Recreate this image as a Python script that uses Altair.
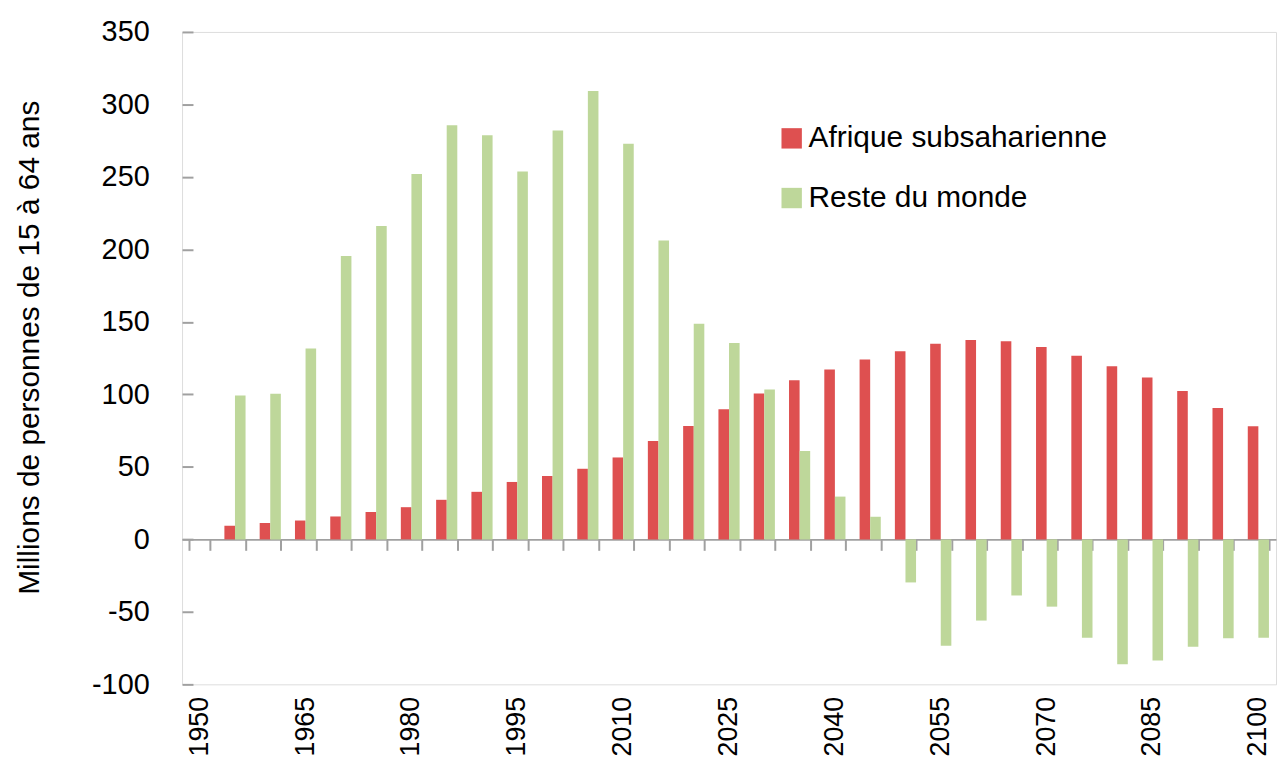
import altair as alt
import pandas as pd

categories = [str(y) for y in range(1950, 2101, 5)]
years = ["1955", "1960", "1965", "1970", "1975", "1980", "1985", "1990", "1995", "2000",
         "2005", "2010", "2015", "2020", "2025", "2030", "2035", "2040", "2045", "2050",
         "2055", "2060", "2065", "2070", "2075", "2080", "2085", "2090", "2095", "2100"]
afrique = [9.4, 11.3, 13, 15.8, 18.9, 22.2, 27.3, 32.8, 39.6, 43.7,
           48.7, 56.5, 67.9, 78.2, 89.7, 100.7, 109.8, 117.1, 124, 129.7,
           135, 137.5, 136.6, 132.7, 126.7, 119.4, 111.6, 102.3, 90.6, 78]
reste = [99.2, 100.4, 131.7, 195.4, 216.1, 252, 285.6, 278.8, 253.8, 282.1,
         309.3, 272.9, 206.1, 148.7, 135.4, 103.4, 60.9, 29.5, 15.6, -29.7,
         -73.4, -56, -38.7, -46.4, -67.9, -86.2, -83.5, -74.1, -68.2, -67.9]
series_names = ["Afrique subsaharienne", "Reste du monde"]
series_colors = ["#DE5050", "#BED79A"]
y_ticks = [-100, -50, 0, 50, 100, 150, 200, 250, 300, 350]

rows = []
for i, yr in enumerate(years):
    rows.append({"annee": yr, "serie": series_names[0], "valeur": afrique[i]})
    rows.append({"annee": yr, "serie": series_names[1], "valeur": reste[i]})
df = pd.DataFrame(rows)

FONT = "Liberation Sans"
W, H = 1100, 656
zero_offset = -H * 100 / 450

xscale = alt.Scale(domain=categories, paddingInner=0.40, paddingOuter=0.20)
yscale = alt.Scale(domain=[-100, 350], nice=False, zero=False)

base = alt.Chart(df)

bars = base.mark_bar().encode(
    x=alt.X("annee:N", scale=xscale, sort=None,
            axis=alt.Axis(title=None, labelAngle=-90, labelAlign="right", labelBaseline="middle",
                          labelPadding=12, ticks=False, tickSize=0, domain=False,
                          labelFont=FONT, labelFontSize=27, labelColor="#000000",
                          labelOverlap=False,
                          labelExpr="(toNumber(datum.value) - 1950) % 15 == 0 ? datum.value : ''")),
    xOffset=alt.XOffset("serie:N", sort=series_names,
                        scale=alt.Scale(paddingInner=0, paddingOuter=0)),
    y=alt.Y("valeur:Q", scale=yscale,
            axis=alt.Axis(values=y_ticks, title="Millions de personnes de 15 à 64 ans",
                          ticks=False, tickSize=0, domain=False, grid=False,
                          labelExpr="'' + datum.value",
                          labelPadding=33, labelFont=FONT, labelFontSize=29, labelColor="#000000",
                          titleFont=FONT, titleFontSize=30, titleFontWeight="normal",
                          titleColor="#000000", titleAngle=-90, titleAlign="center",
                          titleBaseline="middle", titleX=-153, titleY=317)),
    color=alt.Color("serie:N", sort=series_names,
                    scale=alt.Scale(domain=series_names, range=series_colors),
                    legend=alt.Legend(title=None, orient="none", legendX=598, legendY=92,
                                      symbolType="square", symbolSize=420, symbolStrokeWidth=0,
                                      labelFont=FONT, labelFontSize=30, labelColor="#000000",
                                      labelOffset=2, rowPadding=30, padding=0,
                                      labelLimit=600)),
)

axes_layer = base.mark_bar(opacity=0).encode(
    x=alt.X("annee:N", scale=xscale, sort=None,
            axis=alt.Axis(title=None, orient="bottom", offset=zero_offset, labels=False,
                          ticks=True, tickBand="extent", tickSize=11, tickWidth=2,
                          tickColor="#A0A0A0", domain=True, domainColor="#A0A0A0",
                          domainWidth=2, grid=False)),
    y=alt.Y("valeur:Q", scale=yscale,
            axis=alt.Axis(title=None, orient="right", offset=-W, values=y_ticks,
                          labels=False, ticks=True, tickSize=11, tickWidth=2,
                          tickColor="#A0A0A0", domain=False, grid=False)),
)

chart = alt.layer(bars, axes_layer).resolve_axis(
    x="independent", y="independent"
).properties(
    width=W, height=H,
    autosize=alt.AutoSizeParams(type="none"),
    padding={"left": 175, "top": 22, "right": 1, "bottom": 78},
).configure_view(
    stroke="#A6A6A6", strokeWidth=2
).configure(background="#FFFFFF")

chart.save("out.html", embed_options={"renderer": "svg", "actions": False})
